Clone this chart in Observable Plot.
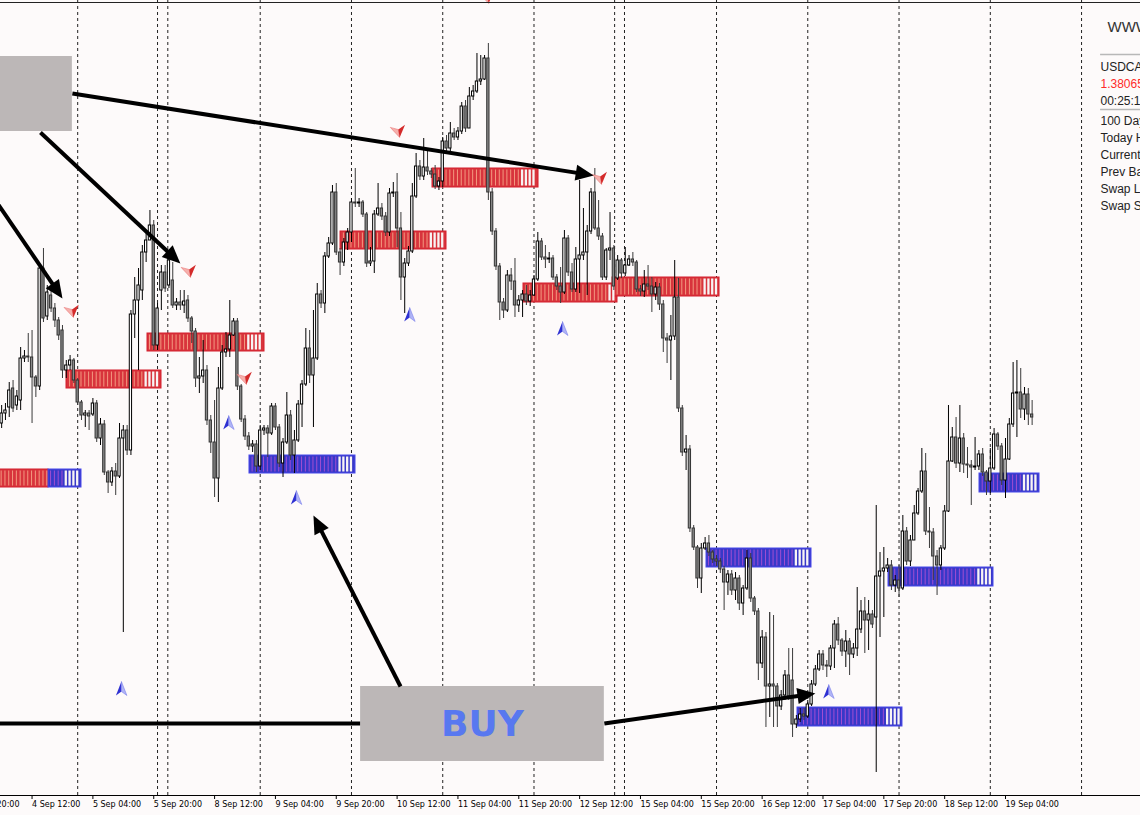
<!DOCTYPE html>
<html><head><meta charset="utf-8">
<script src="https://cdn.jsdelivr.net/npm/d3@7"></script>
<script src="https://cdn.jsdelivr.net/npm/@observablehq/plot@0.6"></script>
<style>
html,body{margin:0;padding:0;background:#fdfafa;overflow:hidden;}
#chart{width:1140px;height:815px;}
</style></head><body><div id="chart"></div>
<script>
// USDCAD H1 candles (bar index 0 = 4 Sep 04:00)
const open = [
1.38054,1.38074,1.38086,1.38124,1.38090,1.38100,1.38184,1.38188,1.38186,1.38146,
1.38128,1.38364,1.38268,1.38310,1.38284,1.38260,1.38240,1.38160,1.38170,1.38180,
1.38140,1.38096,1.38070,1.38074,1.38072,1.38094,1.38024,1.38052,1.37956,1.37936,
1.37958,1.37948,1.38024,1.38040,1.38000,1.38272,1.38300,1.38320,1.38396,1.38420,
1.38450,1.38210,1.38320,1.38356,1.38330,1.38340,1.38290,1.38296,1.38290,1.38300,
1.38264,1.38238,1.38144,1.38148,1.38160,1.38060,1.38016,1.37944,1.38124,1.38196,
1.38202,1.38230,1.38258,1.38128,1.38062,1.38028,1.38008,1.38012,1.37968,1.38040,
1.38044,1.38034,1.38088,1.38046,1.37974,1.38016,1.38070,1.37990,1.38020,1.38092,
1.38132,1.38204,1.38150,1.38184,1.38312,1.38294,1.38388,1.38414,1.38516,1.38396,
1.38376,1.38416,1.38436,1.38496,1.38494,1.38496,1.38472,1.38374,1.38378,1.38472,
1.38484,1.38468,1.38436,1.38514,1.38516,1.38444,1.38346,1.38374,1.38398,1.38508,
1.38568,1.38548,1.38566,1.38558,1.38552,1.38528,1.38538,1.38618,1.38604,1.38634,
1.38626,1.38638,1.38688,1.38644,1.38708,1.38718,1.38738,1.38742,1.38784,1.38516,
1.38438,1.38368,1.38296,1.38280,1.38350,1.38338,1.38290,1.38300,1.38312,1.38298,
1.38310,1.38342,1.38418,1.38386,1.38382,1.38384,1.38346,1.38328,1.38316,1.38424,
1.38356,1.38322,1.38382,1.38390,1.38396,1.38438,1.38516,1.38444,1.38428,1.38346,
1.38400,1.38404,1.38344,1.38380,1.38354,1.38370,1.38382,1.38376,1.38322,1.38318,
1.38332,1.38328,1.38312,1.38326,1.38292,1.38224,1.38220,1.38228,1.38306,1.38084,
1.37996,1.38002,1.37844,1.37806,1.37744,1.37804,1.37814,1.37796,1.37782,1.37778,
1.37762,1.37736,1.37752,1.37720,1.37744,1.37694,1.37724,1.37784,1.37704,1.37678,
1.37574,1.37626,1.37528,1.37532,1.37528,1.37488,1.37510,1.37550,1.37540,1.37452,
1.37462,1.37472,1.37468,1.37492,1.37532,1.37562,1.37592,1.37570,1.37568,1.37604,
1.37652,1.37620,1.37598,1.37618,1.37592,1.37604,1.37642,1.37678,1.37660,1.37672,
1.37666,1.37748,1.37758,1.37764,1.37770,1.37730,1.37740,1.37724,1.37838,1.37778,
1.37820,1.37874,1.37918,1.37958,1.37838,1.37836,1.37788,1.37770,1.37804,1.37878,
1.37978,1.38026,1.37974,1.38024,1.37972,1.37970,1.37966,1.37968,1.37992,1.37956,
1.37938,1.37964,1.38032,1.38008,1.37940,1.37982,1.38052,1.38114,1.38116,1.38082,
1.38112,1.38072];
const high = [
1.38090,1.38094,1.38136,1.38140,1.38120,1.38206,1.38200,1.38234,1.38240,1.38150,
1.38374,1.38404,1.38330,1.38320,1.38294,1.38266,1.38250,1.38180,1.38190,1.38184,
1.38144,1.38100,1.38080,1.38080,1.38104,1.38100,1.38064,1.38060,1.37960,1.37966,
1.37974,1.38054,1.38050,1.38050,1.38280,1.38346,1.38364,1.38410,1.38434,1.38480,
1.38460,1.38294,1.38370,1.38370,1.38400,1.38376,1.38304,1.38320,1.38320,1.38310,
1.38268,1.38244,1.38186,1.38220,1.38170,1.38070,1.38100,1.38166,1.38210,1.38236,
1.38300,1.38264,1.38264,1.38132,1.38070,1.38036,1.38020,1.38020,1.38050,1.38050,
1.38050,1.38094,1.38094,1.38052,1.38024,1.38116,1.38080,1.38040,1.38100,1.38140,
1.38244,1.38240,1.38280,1.38334,1.38320,1.38396,1.38426,1.38530,1.38534,1.38404,
1.38424,1.38444,1.38504,1.38564,1.38504,1.38500,1.38476,1.38406,1.38480,1.38534,
1.38494,1.38476,1.38524,1.38536,1.38554,1.38476,1.38384,1.38408,1.38534,1.38594,
1.38580,1.38624,1.38600,1.38564,1.38570,1.38546,1.38626,1.38630,1.38656,1.38644,
1.38646,1.38696,1.38700,1.38726,1.38730,1.38794,1.38790,1.38790,1.38814,1.38524,
1.38444,1.38374,1.38304,1.38360,1.38364,1.38384,1.38310,1.38320,1.38330,1.38320,
1.38350,1.38436,1.38424,1.38410,1.38396,1.38390,1.38352,1.38366,1.38440,1.38430,
1.38374,1.38406,1.38540,1.38484,1.38450,1.38524,1.38564,1.38500,1.38434,1.38404,
1.38476,1.38410,1.38390,1.38384,1.38406,1.38390,1.38396,1.38380,1.38330,1.38360,
1.38370,1.38346,1.38336,1.38334,1.38300,1.38234,1.38270,1.38380,1.38344,1.38090,
1.38030,1.38010,1.37850,1.37810,1.37814,1.37826,1.37830,1.37800,1.37790,1.37784,
1.37768,1.37760,1.37760,1.37756,1.37750,1.37730,1.37800,1.37794,1.37708,1.37684,
1.37640,1.37636,1.37676,1.37670,1.37534,1.37520,1.37560,1.37604,1.37604,1.37470,
1.37484,1.37484,1.37500,1.37540,1.37570,1.37600,1.37600,1.37580,1.37610,1.37660,
1.37666,1.37624,1.37640,1.37624,1.37614,1.37726,1.37700,1.37706,1.37700,1.37680,
1.37890,1.37796,1.37806,1.37784,1.37780,1.37750,1.37770,1.37870,1.37846,1.37830,
1.37890,1.37924,1.38004,1.37994,1.37886,1.37844,1.37800,1.37810,1.37890,1.38090,
1.38046,1.38066,1.38090,1.38034,1.38006,1.37980,1.38026,1.38000,1.38004,1.37960,
1.38004,1.38044,1.38036,1.38014,1.38024,1.38064,1.38176,1.38180,1.38164,1.38126,
1.38124,1.38100];
const low = [
1.38044,1.38060,1.38066,1.38076,1.38080,1.38080,1.38176,1.38176,1.38054,1.38106,
1.38120,1.38256,1.38260,1.38276,1.38246,1.38220,1.38144,1.38144,1.38160,1.38134,
1.38090,1.38060,1.38046,1.38040,1.38068,1.38016,1.38010,1.37950,1.37914,1.37928,
1.37910,1.37944,1.37636,1.37990,1.37990,1.38224,1.38160,1.38300,1.38376,1.38420,
1.38200,1.38200,1.38280,1.38316,1.38324,1.38284,1.38280,1.38280,1.38274,1.38256,
1.38214,1.38126,1.38114,1.38134,1.38050,1.37994,1.37906,1.37896,1.38120,1.38186,
1.38186,1.38228,1.38120,1.38056,1.38020,1.38000,1.37996,1.37956,1.37960,1.38030,
1.37986,1.38030,1.38040,1.37966,1.37946,1.38012,1.37980,1.37954,1.38016,1.38046,
1.38128,1.38134,1.38046,1.38180,1.38284,1.38274,1.38384,1.38410,1.38390,1.38350,
1.38368,1.38400,1.38416,1.38486,1.38486,1.38466,1.38366,1.38368,1.38354,1.38468,
1.38460,1.38428,1.38428,1.38506,1.38406,1.38300,1.38274,1.38368,1.38394,1.38504,
1.38540,1.38540,1.38550,1.38544,1.38522,1.38520,1.38526,1.38596,1.38596,1.38620,
1.38620,1.38632,1.38636,1.38644,1.38700,1.38714,1.38730,1.38740,1.38500,1.38430,
1.38360,1.38260,1.38264,1.38276,1.38320,1.38266,1.38276,1.38266,1.38290,1.38288,
1.38308,1.38338,1.38380,1.38364,1.38374,1.38340,1.38320,1.38294,1.38312,1.38348,
1.38316,1.38316,1.38314,1.38380,1.38310,1.38432,1.38440,1.38420,1.38340,1.38340,
1.38380,1.38320,1.38340,1.38344,1.38348,1.38368,1.38368,1.38316,1.38308,1.38306,
1.38320,1.38276,1.38300,1.38280,1.38196,1.38174,1.38140,1.38220,1.38076,1.37988,
1.37960,1.37836,1.37800,1.37724,1.37714,1.37800,1.37788,1.37774,1.37768,1.37754,
1.37680,1.37710,1.37710,1.37700,1.37680,1.37670,1.37720,1.37696,1.37670,1.37540,
1.37564,1.37446,1.37466,1.37446,1.37446,1.37480,1.37500,1.37500,1.37426,1.37444,
1.37456,1.37460,1.37464,1.37488,1.37528,1.37558,1.37560,1.37546,1.37560,1.37564,
1.37610,1.37588,1.37566,1.37550,1.37584,1.37588,1.37634,1.37594,1.37600,1.37644,
1.37356,1.37626,1.37666,1.37756,1.37720,1.37716,1.37706,1.37720,1.37770,1.37768,
1.37820,1.37870,1.37914,1.37830,1.37804,1.37740,1.37710,1.37760,1.37800,1.37876,
1.37976,1.37964,1.37956,1.37954,1.37944,1.37890,1.37960,1.37960,1.37948,1.37910,
1.37914,1.37960,1.38000,1.37930,1.37904,1.37980,1.38046,1.38026,1.38064,1.38060,
1.38050,1.38050];
const close = [
1.38074,1.38080,1.38120,1.38084,1.38108,1.38184,1.38188,1.38186,1.38146,1.38128,
1.38364,1.38264,1.38316,1.38284,1.38260,1.38230,1.38160,1.38170,1.38180,1.38140,
1.38096,1.38070,1.38074,1.38068,1.38094,1.38024,1.38052,1.37956,1.37936,1.37958,
1.37948,1.38024,1.38040,1.38000,1.38272,1.38300,1.38330,1.38396,1.38420,1.38450,
1.38210,1.38284,1.38356,1.38324,1.38380,1.38290,1.38296,1.38290,1.38298,1.38264,
1.38238,1.38144,1.38148,1.38160,1.38060,1.38016,1.37944,1.38124,1.38196,1.38202,
1.38230,1.38258,1.38128,1.38062,1.38028,1.38008,1.38012,1.37968,1.38040,1.38044,
1.38034,1.38088,1.38046,1.37974,1.38016,1.38070,1.37990,1.38020,1.38092,1.38132,
1.38204,1.38150,1.38184,1.38312,1.38294,1.38388,1.38414,1.38516,1.38396,1.38376,
1.38416,1.38436,1.38496,1.38494,1.38496,1.38472,1.38374,1.38378,1.38472,1.38484,
1.38468,1.38436,1.38514,1.38516,1.38444,1.38346,1.38374,1.38398,1.38508,1.38568,
1.38548,1.38566,1.38558,1.38552,1.38528,1.38538,1.38618,1.38604,1.38634,1.38626,
1.38638,1.38688,1.38644,1.38708,1.38718,1.38738,1.38742,1.38784,1.38516,1.38438,
1.38368,1.38296,1.38280,1.38350,1.38338,1.38290,1.38300,1.38312,1.38298,1.38310,
1.38342,1.38418,1.38386,1.38382,1.38384,1.38346,1.38328,1.38316,1.38424,1.38356,
1.38322,1.38382,1.38390,1.38396,1.38438,1.38516,1.38444,1.38428,1.38346,1.38400,
1.38404,1.38328,1.38380,1.38354,1.38370,1.38382,1.38376,1.38322,1.38318,1.38332,
1.38328,1.38312,1.38326,1.38292,1.38224,1.38220,1.38228,1.38306,1.38084,1.37996,
1.38002,1.37844,1.37806,1.37744,1.37804,1.37814,1.37796,1.37782,1.37778,1.37762,
1.37736,1.37752,1.37720,1.37744,1.37694,1.37724,1.37784,1.37704,1.37678,1.37574,
1.37626,1.37528,1.37532,1.37528,1.37488,1.37510,1.37550,1.37508,1.37452,1.37462,
1.37472,1.37468,1.37492,1.37532,1.37562,1.37592,1.37570,1.37568,1.37604,1.37652,
1.37620,1.37598,1.37618,1.37592,1.37604,1.37642,1.37678,1.37660,1.37672,1.37652,
1.37748,1.37758,1.37764,1.37770,1.37730,1.37740,1.37724,1.37838,1.37778,1.37820,
1.37874,1.37918,1.37958,1.37838,1.37836,1.37788,1.37770,1.37804,1.37878,1.37978,
1.38026,1.37974,1.38024,1.37972,1.37970,1.37966,1.37968,1.37992,1.37956,1.37938,
1.37964,1.38032,1.38008,1.37940,1.37982,1.38052,1.38114,1.38116,1.38082,1.38112,
1.38072,1.38066];

// time axis
const tickBars = [-8,8,24,40,56,72,88,104,120,136,152,168,184,200,216,232,248,264];
const tickLabels = ["3 Sep 20:00","4 Sep 12:00","5 Sep 04:00","5 Sep 20:00","8 Sep 12:00","9 Sep 04:00","9 Sep 20:00","10 Sep 12:00","11 Sep 04:00","11 Sep 20:00","12 Sep 12:00","15 Sep 04:00","15 Sep 20:00","16 Sep 12:00","17 Sep 04:00","17 Sep 20:00","18 Sep 12:00","19 Sep 04:00"];
const separatorBars = [20,41,43.7,68,92,116,140,161.2,163.8,188,212,236,260,284];

// supply / demand zones
const zoneStart  = [-1.5,12.32,17.06,38.36,65.18,89.12,113.31,137.24,160.65,185.37,209.3,233.23,257.16];
const zoneEnd    = [12.32,21.0,42.04,69.13,93.06,116.99,141.19,161.96,188.79,212.98,236.9,260.84,272.94];
const zoneTop    = [1.37962,1.37962,1.38160,1.38234,1.37990,1.38438,1.38564,1.38334,1.38346,1.37804,1.37486,1.37766,1.37954];
const zoneBottom = [1.37926,1.37926,1.38124,1.38198,1.37954,1.38402,1.38526,1.38296,1.38308,1.37766,1.37448,1.37728,1.37916];
const zoneKind   = ["sell","buy","sell","sell","buy","sell","sell","sell","sell","buy","buy","buy","buy"];
const zoneFresh  = [0,4,4,4,4,4,4,2,4,4,4,4,4];

// signal arrows
const sellSigBar = [18.6,49.4,64.1,104.4,127.8,157.5];
const sellSigPrice = [1.38278,1.38358,1.38144,1.38638,1.38906,1.38544];
const buySigBar = [31.5,59.7,77.5,107.3,147.5,217.5];
const buySigPrice = [1.37524,1.38056,1.37906,1.38272,1.38244,1.37518];

// annotation boxes and arrows
const boxX1 = [-1,94.4], boxX2 = [18.6,158.5], boxTop = [1.38788,1.37528], boxBottom = [1.38638,1.37378];
const boxText = ["","BUY"];
const arrowX1 = [18.6,10.2,-1.6,104.9,158.5];
const arrowY1 = [1.38714,1.38636,1.38500,1.37528,1.37454];
const arrowX2 = [155.7,47.0,16.0,82.0,214.0];
const arrowY2 = [1.38550,1.38374,1.38304,1.37870,1.37514];
const lineX1 = [94.4], lineX2 = [-3], lineY = [1.37454];

// info panel
const panelRows = [
  {t:"WWW", dx:1107, dy:27, size:15, color:"#333"},
  {t:"USDCAD", dx:1100, dy:67, size:12, color:"#222"},
  {t:"1.38065", dx:1100, dy:84, size:12, color:"#ff2a2a"},
  {t:"00:25:14", dx:1100, dy:101, size:12, color:"#222"},
  {t:"100 Days Range", dx:1100, dy:121, size:12, color:"#222"},
  {t:"Today High-Low", dx:1100, dy:138, size:12, color:"#222"},
  {t:"Current Spread", dx:1100, dy:155, size:12, color:"#222"},
  {t:"Prev Bar", dx:1100, dy:172, size:12, color:"#222"},
  {t:"Swap Long", dx:1100, dy:189, size:12, color:"#222"},
  {t:"Swap Short", dx:1100, dy:206, size:12, color:"#222"}
];
const panelRuleY = [1.38792,1.38682];

// ---------- build ----------
const W = 1140, H = 815, MB = 20;
const xDomain = [-0.3, 299.5];
const yDomain = [1.37310, 1.38900];
const pxPerBar = W / (xDomain[1] - xDomain[0]);
const pxPerPrice = (H - MB) / (yDomain[1] - yDomain[0]);

const candles = open.map((o, i) => ({i, o, h: high[i], l: low[i], c: close[i], up: close[i] >= o}));
const zones = zoneStart.map((s, k) => ({x1: s, x2: zoneEnd[k], top: zoneTop[k], bottom: zoneBottom[k], kind: zoneKind[k], fresh: zoneFresh[k]}));
const stripes = [];
zones.forEach(z => {
  const bars = d3.range(Math.ceil(z.x1 + 0.3), Math.floor(z.x2 - 0.3) + 1);
  bars.forEach((b, j) => stripes.push({b, top: z.top, bottom: z.bottom, kind: z.kind, white: j >= bars.length - z.fresh}));
});
const zoneFill = {sell: "#d8343c", buy: "#3838c8"};
const zoneStroke = {sell: "#d41f2c", buy: "#4848ea"};
const stripeFill = {sell: "#f39a80", buy: "#a24ed2"};

const sells = sellSigBar.map((b, k) => ({b, p: sellSigPrice[k]}));
const buys = buySigBar.map((b, k) => ({b, p: buySigPrice[k]}));
const boxes = boxX1.map((x, k) => ({x1: x, x2: boxX2[k], top: boxTop[k], bottom: boxBottom[k], text: boxText[k]}));

const arrows = arrowX1.map((x1, k) => {
  const a = {x1, y1: arrowY1[k], x2: arrowX2[k], y2: arrowY2[k]};
  const dx = (a.x2 - a.x1) * pxPerBar, dy = -(a.y2 - a.y1) * pxPerPrice;
  const len = Math.hypot(dx, dy);
  const f = 12 / len;
  a.ang = Math.atan2(dx, -dy) * 180 / Math.PI;
  a.sx2 = a.x2 - (a.x2 - a.x1) * f;
  a.sy2 = a.y2 - (a.y2 - a.y1) * f;
  return a;
});
const lines = lineX1.map((x1, k) => ({x1, x2: lineX2[k], y: lineY[k]}));

const headSym = {draw(c) { c.moveTo(0, 0); c.lineTo(8, 18); c.lineTo(-8, 18); c.closePath(); }};
// buy signal: upward dart, split in two halves
const up = (side) => ({draw(c) { c.moveTo(0, -7); c.lineTo(0, 3); c.lineTo(side * 5.5, 7); c.closePath(); }});
// sell signal: wide downward chevron, split in two halves
const dn = (side) => ({draw(c) { c.moveTo(0, 6); c.lineTo(0, -2); c.lineTo(side * 7.5, -5.5); c.closePath(); }});

const tickMap = new Map(tickBars.map((b, k) => [b, tickLabels[k]]));

const marks = [
  Plot.ruleX(separatorBars, {stroke: "#222", strokeWidth: 1, strokeDasharray: "3,3"}),
  Plot.rect(zones, {x1: "x1", x2: "x2", y1: "bottom", y2: "top", fill: d => zoneFill[d.kind], stroke: d => zoneStroke[d.kind], strokeWidth: 1}),
  Plot.rect(stripes.filter(s => !s.white), {x1: d => d.b - 0.13, x2: d => d.b + 0.13, y1: d => d.bottom, y2: d => d.top, fill: d => stripeFill[d.kind], insetTop: 1.5, insetBottom: 1.5}),
  Plot.rect(stripes.filter(s => s.white), {x1: d => d.b - 0.3, x2: d => d.b + 0.3, y1: d => d.bottom, y2: d => d.top, fill: "#f8f4f4", insetTop: 1.5, insetBottom: 1.5}),
  Plot.ruleX(candles, {x: "i", y1: "l", y2: "h", stroke: d => d.up ? "#000" : "#3a3a3a", strokeWidth: 1}),
  Plot.rect(candles, {x1: d => d.i - 0.3, x2: d => d.i + 0.3, y1: "o", y2: "c", fill: d => d.up ? "#ffffff" : "#8a8a8a", stroke: d => d.up ? "#000" : "#333", strokeWidth: 1}),
  Plot.dot(buys, {x: "b", y: "p", r: 7, symbol: up(-1), fill: "#2e30d2", stroke: "none"}),
  Plot.dot(buys, {x: "b", y: "p", r: 7, symbol: up(1), fill: "#b0b4f6", stroke: "#6a70e8", strokeWidth: 0.5}),
  Plot.dot(sells, {x: "b", y: "p", r: 7, symbol: dn(-1), fill: "#f6b0ac", stroke: "#e87070", strokeWidth: 0.5, rotate: -10}),
  Plot.dot(sells, {x: "b", y: "p", r: 7, symbol: dn(1), fill: "#d42a2a", stroke: "none", rotate: -10}),
  Plot.rect(boxes, {x1: "x1", x2: "x2", y1: "bottom", y2: "top", fill: "#bcb7b7"}),
  Plot.text(boxes, {x: d => (d.x1 + d.x2) / 2, y: d => (d.top + d.bottom) / 2, text: "text", fill: "#5878f0", fontSize: 36, fontWeight: "bold", fontFamily: "DejaVu Sans", textAnchor: "middle", lineAnchor: "middle"}),
  Plot.link(arrows, {x1: "x1", y1: "y1", x2: "sx2", y2: "sy2", stroke: "#000", strokeWidth: 4}),
  Plot.dot(arrows, {x: "x2", y: "y2", symbol: headSym, rotate: "ang", fill: "#000", stroke: "none", r: 6}),
  Plot.ruleY(lines, {y: "y", x1: "x1", x2: "x2", stroke: "#000", strokeWidth: 4}),
  Plot.ruleY([yDomain[0]], {stroke: "#000", strokeWidth: 1}),
  Plot.ruleY([yDomain[1]], {stroke: "#222", strokeWidth: 1, dy: 2}),
  Plot.axisX(tickBars, {tickFormat: d => tickMap.get(d), tickSize: 4, tickPadding: 2, textAnchor: "start", fontSize: 8, label: null, anchor: "bottom", stroke: "#000", fill: "#000"}),
  Plot.ruleY(panelRuleY, {x1: 289.0, x2: 299.5, stroke: "#b8b8b8", strokeWidth: 1.5})
];
panelRows.forEach(r => {
  marks.push(Plot.text([r.t], {text: d => d, frameAnchor: "top-left", dx: r.dx, dy: r.dy, fontSize: r.size, fill: r.color, fontFamily: "Liberation Sans", textAnchor: "start", lineAnchor: "middle"}));
});

const chart = Plot.plot({
  width: W, height: H,
  marginLeft: 0, marginRight: 0, marginTop: 0, marginBottom: MB,
  x: {domain: xDomain, axis: null},
  y: {domain: yDomain, axis: null},
  style: {background: "#fdfafa", fontFamily: "DejaVu Sans", fontSize: "8px", overflow: "hidden"},
  marks
});
document.getElementById("chart").appendChild(chart);
</script>
</body></html>
